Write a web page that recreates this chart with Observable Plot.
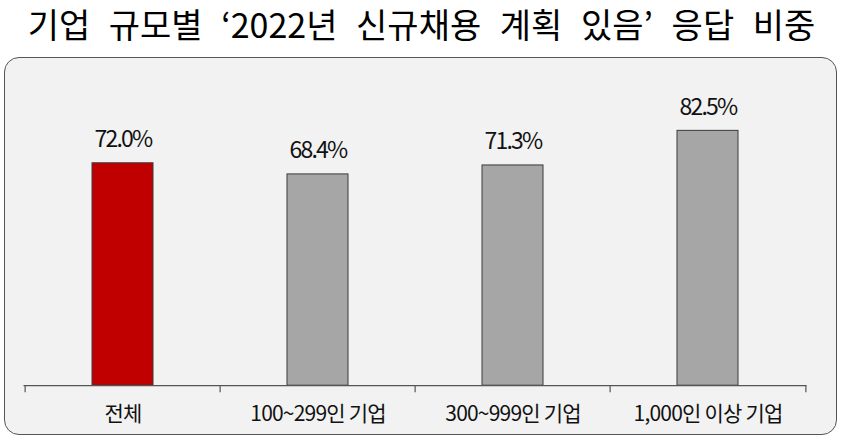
<!DOCTYPE html>
<html>
<head>
<meta charset="utf-8">
<script src="https://cdn.jsdelivr.net/npm/d3@7"></script>
<script src="https://cdn.jsdelivr.net/npm/@observablehq/plot@0.6"></script>
<style>
  html, body { margin: 0; padding: 0; background: #ffffff; }
  body { width: 843px; height: 440px; position: relative; overflow: hidden; }
  #title {
    position: absolute; left: 0; top: 0; width: 843px; height: 48px;
    line-height: 48px; text-align: center;
    font-family: "Noto Sans CJK KR", sans-serif; font-size: 34px; font-weight: 400;
    word-spacing: 11px; color: #000;
  }
  #box {
    position: absolute; left: 4px; top: 57px; width: 831px; height: 376px;
    border: 1.5px solid #555; border-radius: 15px; background: #f2f2f2; overflow: hidden;
  }
  .xlab text { letter-spacing: -0.8px; }
  .vlab text { letter-spacing: -1.8px; }
</style>
</head>
<body>
<div id="title">기업 규모별 ‘2022년 신규채용 계획 있음’ 응답 비중</div>
<div id="box"></div>
<script>
const categories = ["전체", "100~299인 기업", "300~999인 기업", "1,000인 이상 기업"];
const values = [72.0, 68.4, 71.3, 82.5];
const valueLabels = ["72.0%", "68.4%", "71.3%", "82.5%"];
const barColors = ["#C00000", "#A6A6A6", "#A6A6A6", "#A6A6A6"];

const data = categories.map((c, i) => ({cat: c, value: values[i], label: valueLabels[i], color: barColors[i]}));

const W = 831, H = 376, ML = 18.5, MR = 29.5;
const step = (W - ML - MR) / categories.length;

const chart = Plot.plot({
  width: W, height: H,
  marginLeft: ML, marginRight: MR, marginTop: 18.3, marginBottom: 48.8,
  x: {domain: categories, padding: 0, axis: null},
  y: {domain: [0, 100], axis: null},
  color: {type: "identity"},
  style: {background: "transparent", overflow: "visible"},
  marks: [
    Plot.barY(data, {x: "cat", y: "value", fill: "color", stroke: "#3a3a3a", strokeWidth: 1, insetLeft: 67, insetRight: 67}),
    Plot.ruleY([0], {stroke: "#555", strokeWidth: 1.2}),
    Plot.ruleX(categories, {x: d => d, dx: -step / 2, y1: 0, y2: -2.3, stroke: "#555", strokeWidth: 1.2}),
    Plot.ruleX(categories.slice(-1), {x: d => d, dx: step / 2, y1: 0, y2: -2.3, stroke: "#555", strokeWidth: 1.2}),
    Plot.text(data, {x: "cat", y: "value", text: "label", dy: -16, lineAnchor: "bottom",
      fontSize: 23, fontFamily: "'Noto Sans CJK KR', sans-serif", fill: "#111", className: "vlab"}),
    Plot.text(categories, {x: d => d, y: () => 0, text: d => d, dy: 29, lineAnchor: "middle",
      fontSize: 21, fontFamily: "'Noto Sans CJK KR', sans-serif", fill: "#111", className: "xlab"})
  ]
});
document.getElementById("box").appendChild(chart);
</script>
</body>
</html>
